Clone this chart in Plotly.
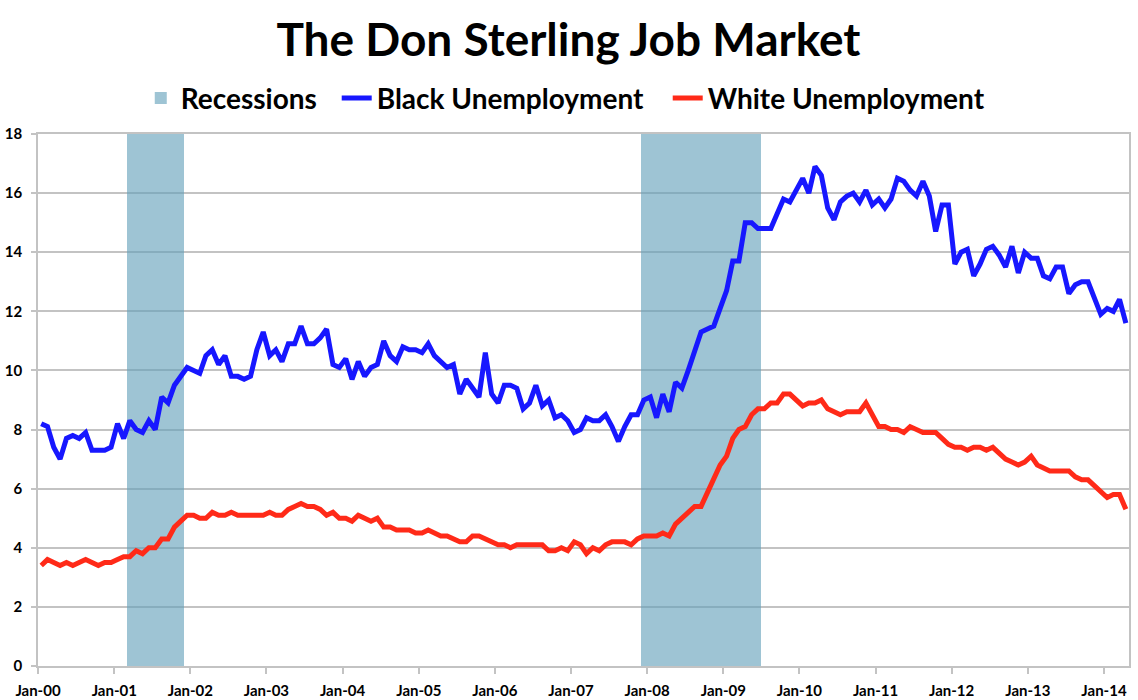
import pandas as pd
import plotly.graph_objects as go

# ---- data (monthly, seasonally adjusted unemployment rate, %) ----
start_month = "2000-01-01"

black_unemployment = [
    8.2, 8.1, 7.4, 7.0, 7.7, 7.8, 7.7, 7.9, 7.3, 7.3, 7.3, 7.4,          # 2000
    8.2, 7.7, 8.3, 8.0, 7.9, 8.3, 8.0, 9.1, 8.9, 9.5, 9.8, 10.1,         # 2001
    10.0, 9.9, 10.5, 10.7, 10.2, 10.5, 9.8, 9.8, 9.7, 9.8, 10.7, 11.3,   # 2002
    10.5, 10.7, 10.3, 10.9, 10.9, 11.5, 10.9, 10.9, 11.1, 11.4, 10.2, 10.1,  # 2003
    10.4, 9.7, 10.3, 9.8, 10.1, 10.2, 11.0, 10.5, 10.3, 10.8, 10.7, 10.7,   # 2004
    10.6, 10.9, 10.5, 10.3, 10.1, 10.2, 9.2, 9.7, 9.4, 9.1, 10.6, 9.2,     # 2005
    8.9, 9.5, 9.5, 9.4, 8.7, 8.9, 9.5, 8.8, 9.0, 8.4, 8.5, 8.3,           # 2006
    7.9, 8.0, 8.4, 8.3, 8.3, 8.5, 8.1, 7.6, 8.1, 8.5, 8.5, 9.0,           # 2007
    9.1, 8.4, 9.2, 8.6, 9.6, 9.4, 10.0, 10.6, 11.3, 11.4, 11.5, 12.1,     # 2008
    12.7, 13.7, 13.7, 15.0, 15.0, 14.8, 14.8, 14.8, 15.3, 15.8, 15.7, 16.1,  # 2009
    16.5, 16.0, 16.9, 16.6, 15.5, 15.1, 15.7, 15.9, 16.0, 15.7, 16.1, 15.6,  # 2010
    15.8, 15.5, 15.8, 16.5, 16.4, 16.1, 15.9, 16.4, 15.9, 14.7, 15.6, 15.6,  # 2011
    13.6, 14.0, 14.1, 13.2, 13.6, 14.1, 14.2, 13.9, 13.5, 14.2, 13.3, 14.0,  # 2012
    13.8, 13.8, 13.2, 13.1, 13.5, 13.5, 12.6, 12.9, 13.0, 13.0, 12.5, 11.9,  # 2013
    12.1, 12.0, 12.4, 11.6,                                               # 2014
]

white_unemployment = [
    3.4, 3.6, 3.5, 3.4, 3.5, 3.4, 3.5, 3.6, 3.5, 3.4, 3.5, 3.5,   # 2000
    3.6, 3.7, 3.7, 3.9, 3.8, 4.0, 4.0, 4.3, 4.3, 4.7, 4.9, 5.1,   # 2001
    5.1, 5.0, 5.0, 5.2, 5.1, 5.1, 5.2, 5.1, 5.1, 5.1, 5.1, 5.1,   # 2002
    5.2, 5.1, 5.1, 5.3, 5.4, 5.5, 5.4, 5.4, 5.3, 5.1, 5.2, 5.0,   # 2003
    5.0, 4.9, 5.1, 5.0, 4.9, 5.0, 4.7, 4.7, 4.6, 4.6, 4.6, 4.5,   # 2004
    4.5, 4.6, 4.5, 4.4, 4.4, 4.3, 4.2, 4.2, 4.4, 4.4, 4.3, 4.2,   # 2005
    4.1, 4.1, 4.0, 4.1, 4.1, 4.1, 4.1, 4.1, 3.9, 3.9, 4.0, 3.9,   # 2006
    4.2, 4.1, 3.8, 4.0, 3.9, 4.1, 4.2, 4.2, 4.2, 4.1, 4.3, 4.4,   # 2007
    4.4, 4.4, 4.5, 4.4, 4.8, 5.0, 5.2, 5.4, 5.4, 5.9, 6.3, 6.8,   # 2008
    7.1, 7.7, 8.0, 8.1, 8.5, 8.7, 8.7, 8.9, 8.9, 9.2, 9.2, 9.0,   # 2009
    8.8, 8.9, 8.9, 9.0, 8.7, 8.6, 8.5, 8.6, 8.6, 8.6, 8.9, 8.5,   # 2010
    8.1, 8.1, 8.0, 8.0, 7.9, 8.1, 8.0, 7.9, 7.9, 7.9, 7.7, 7.5,   # 2011
    7.4, 7.4, 7.3, 7.4, 7.4, 7.3, 7.4, 7.2, 7.0, 6.9, 6.8, 6.9,   # 2012
    7.1, 6.8, 6.7, 6.6, 6.6, 6.6, 6.6, 6.4, 6.3, 6.3, 6.1, 5.9,   # 2013
    5.7, 5.8, 5.8, 5.3,                                            # 2014
]

# NBER recessions: first month, first month after the end
recession_starts = ["2001-03-01", "2007-12-01"]
recession_ends = ["2001-12-01", "2009-07-01"]
recession_height = [18, 18]

year_ticks = [f"{y}-01-01" for y in range(2000, 2015)]
x_range = ["2000-01-01", "2014-05-01"]

months = pd.date_range(start_month, periods=len(black_unemployment), freq="MS")

# ---- figure ----
FONT = "Lato"
GRID = "#C3C3C3"

rec_x = pd.to_datetime(recession_starts)
rec_w = [(pd.Timestamp(e) - pd.Timestamp(s)).total_seconds() * 1000
         for s, e in zip(recession_starts, recession_ends)]

fig = go.Figure()
fig.add_trace(go.Bar(
    x=rec_x, y=recession_height, width=rec_w, offset=0,
    name="Recessions", legend="legend",
    marker=dict(color="rgba(98,160,185,0.62)", line=dict(width=0)),
    hoverinfo="skip",
))
fig.add_trace(go.Scatter(
    x=months, y=black_unemployment, mode="lines", name="Black Unemployment",
    legend="legend2",
    xperiod="M1", xperiodalignment="middle",
    line=dict(color="#1717FF", width=5),
))
fig.add_trace(go.Scatter(
    x=months, y=white_unemployment, mode="lines", name="White Unemployment",
    legend="legend3",
    xperiod="M1", xperiodalignment="middle",
    line=dict(color="#FF2A18", width=5),
))

legend_font = dict(family=FONT, size=28, color="black", weight="bold")
legend_common = dict(orientation="h", xanchor="left", y=1.067, yanchor="middle",
                     font=legend_font, itemwidth=30, bgcolor="rgba(0,0,0,0)")

fig.update_layout(
    width=1138, height=700,
    paper_bgcolor="white", plot_bgcolor="white",
    margin=dict(l=38, r=9, t=134, b=34, autoexpand=False),
    bargap=0,
    title=dict(
        text="The Don Sterling Job Market",
        x=0.4995, xanchor="center", y=1 - 40 / 700, yanchor="middle",
        font=dict(family=FONT, size=46, color="black", weight="bold"),
    ),
    showlegend=True,
    legend=dict(x=0.0942, **legend_common),
    legend2=dict(x=0.2738, **legend_common),
    legend3=dict(x=0.5772, **legend_common),
    font=dict(family=FONT, color="black"),
)

fig.update_xaxes(
    type="date", range=x_range, automargin=False,
    tickmode="array", tickvals=year_ticks, tickformat="%b-%y",
    ticks="outside", ticklen=6, tickwidth=1.5, tickcolor=GRID,
    ticklabelstandoff=4,
    showline=True, linecolor=GRID, linewidth=1.5, mirror=True,
    showgrid=False, zeroline=False,
    tickfont=dict(family=FONT, size=15, color="black", weight="bold"),
)
fig.update_yaxes(
    range=[0, 18], dtick=2, tick0=0, automargin=False,
    ticks="outside", ticklen=5, tickwidth=1.5, tickcolor=GRID,
    ticklabelstandoff=6,
    showline=True, linecolor=GRID, linewidth=1.5, mirror=True,
    showgrid=True, gridcolor=GRID, gridwidth=1.5, zeroline=False,
    tickfont=dict(family=FONT, size=15, color="black", weight="bold"),
)

fig.write_html("out.html", config={"displayModeBar": False},
               post_script="document.body.style.margin='0px';")
